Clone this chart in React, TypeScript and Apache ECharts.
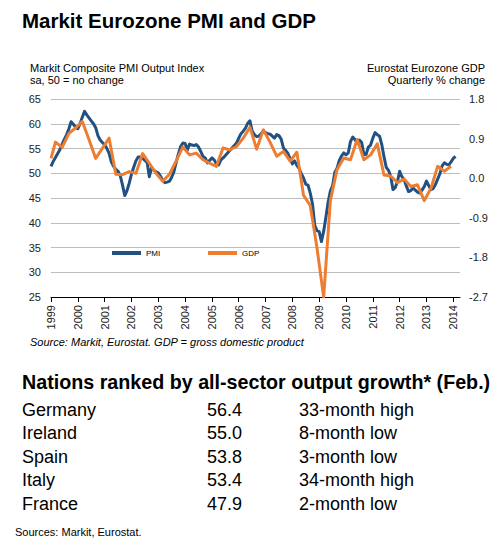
import React, { useEffect, useRef } from "react";
import * as echarts from "echarts";

// ---------- DATA ----------
const titleText = "Markit Eurozone PMI and GDP";
const leftAxisTitle = ["Markit Composite PMI Output Index", "sa, 50 = no change"];
const rightAxisTitle = ["Eurostat Eurozone GDP", "Quarterly % change"];
const sourceText = "Source: Markit, Eurostat. GDP = gross domestic product";
const tableTitle = "Nations ranked by all-sector output growth* (Feb.)";
const footnote = "Sources: Markit, Eurostat.";

const firstYear = 1999;
const lastYear = 2014;
const lastMonthOfAxis = 4; // axis runs to Apr 2014

// Monthly composite PMI, Jan 1999 - Feb 2014
const pmiValues = [
  51.4, 52.4, 53.2, 54.0, 54.8, 55.9, 56.9, 57.8, 59.0, 60.4, 59.9, 59.3, // 1999
  59.0, 60.0, 61.3, 62.5, 61.8, 61.2, 60.6, 60.0, 59.2, 57.6, 56.7, 56.2, // 2000
  55.8, 55.0, 54.0, 52.3, 51.4, 50.8, 50.4, 49.5, 47.6, 45.5, 46.5, 48.0, // 2001
  49.8, 51.2, 52.5, 53.3, 53.3, 53.0, 52.6, 52.2, 49.3, 51.2, 50.6, 50.3, // 2002
  50.1, 49.4, 48.6, 48.1, 48.2, 48.4, 49.2, 50.3, 52.2, 53.9, 55.4, 56.1, // 2003
  56.0, 54.7, 55.9, 55.7, 55.6, 55.8, 55.3, 54.4, 53.4, 53.1, 52.1, 52.6, // 2004
  53.1, 52.7, 51.9, 51.7, 52.7, 53.1, 53.6, 54.1, 54.6, 55.1, 55.6, 56.1, // 2005
  57.1, 58.0, 58.5, 59.1, 60.1, 60.6, 58.5, 57.8, 57.4, 57.5, 58.0, 58.4, // 2006
  58.2, 58.0, 57.9, 57.5, 57.1, 57.8, 57.6, 56.9, 55.1, 54.6, 54.0, 52.9, // 2007
  51.9, 52.5, 51.6, 51.0, 49.9, 49.0, 47.8, 47.6, 46.0, 43.8, 39.5, 38.4, // 2008
  38.2, 36.2, 38.3, 41.1, 44.2, 46.4, 47.5, 50.2, 51.0, 52.6, 53.5, 54.1, // 2009
  53.7, 54.1, 56.4, 57.3, 56.8, 56.1, 56.7, 56.2, 53.8, 53.8, 55.3, 55.7, // 2010
  57.1, 58.2, 57.8, 57.5, 55.8, 53.3, 51.2, 50.6, 49.4, 46.7, 47.1, 48.3, // 2011
  50.4, 49.3, 48.7, 47.4, 46.3, 46.5, 47.0, 46.6, 46.2, 46.0, 46.6, 47.3, // 2012
  48.4, 47.5, 46.7, 46.9, 47.7, 48.8, 49.9, 51.5, 52.1, 51.8, 51.7, 52.3, // 2013
  53.0, 53.4, // 2014
];

// Quarterly GDP % change: starting point (Jan 1999) then Q1 1999 - Q4 2013
const gdpStartValue = 0.45;
const gdpValues = [
  0.82, 0.7, 1.02, 1.14, // 1999
  1.29, 0.88, 0.45, 0.68, // 2000
  0.91, 0.09, 0.08, 0.15, // 2001
  0.11, 0.56, 0.34, 0.11, // 2002
  -0.07, 0.09, 0.39, 0.71, // 2003
  0.53, 0.57, 0.42, 0.34, // 2004
  0.27, 0.69, 0.64, 0.72, // 2005
  0.91, 1.16, 0.66, 1.1, // 2006
  0.82, 0.5, 0.61, 0.39, // 2007
  0.59, -0.39, -0.62, -1.58, // 2008
  -2.7, -0.51, 0.2, 0.46, // 2009
  0.42, 0.88, 0.42, 0.53, // 2010
  0.78, 0.07, 0.05, -0.1, // 2011
  -0.02, -0.19, -0.15, -0.51, // 2012
  -0.23, 0.27, 0.16, 0.27, // 2013
];

const nations = ["Germany", "Ireland", "Spain", "Italy", "France"];
const nationValues = ["56.4", "55.0", "53.8", "53.4", "47.9"];
const nationNotes = ["33-month high", "8-month low", "3-month low", "34-month high", "2-month low"];

// ---------- BUILD ----------
const pad = (n: number) => (n < 10 ? "0" + n : "" + n);
const months: string[] = [];
for (let y = firstYear; y <= lastYear; y++) {
  for (let m = 1; m <= 12; m++) {
    if (y === lastYear && m > lastMonthOfAxis) break;
    months.push(`${y}-${pad(m)}`);
  }
}
const pmiData = pmiValues.map((v, i) => [months[i], v]);
const gdpData: (string | number)[][] = [[months[0], gdpStartValue]];
gdpValues.forEach((v, i) => {
  const y = firstYear + Math.floor(i / 4);
  const m = (i % 4) * 3 + 3;
  gdpData.push([`${y}-${pad(m)}`, v]);
});

const FONT = '"Liberation Sans", Arial, sans-serif';
const isJan = (_i: number, v: string) => typeof v === "string" && v.endsWith("-01");

export default function App() {
  const ref = useRef<HTMLDivElement>(null);
  useEffect(() => {
    if (!ref.current) return;
    const chart = echarts.init(ref.current, undefined, { renderer: "svg" });

    const txt = (text: string, x: number, y: number, o: any = {}) => ({
      type: "text",
      x,
      y,
      silent: true,
      style: {
        text,
        fill: o.fill || "#000",
        fontFamily: FONT,
        fontSize: o.size || 11,
        fontWeight: o.weight || "normal",
        fontStyle: o.style || "normal",
        align: o.align || "left",
        textAlign: o.align || "left",
        verticalAlign: "middle",
        textVerticalAlign: "middle",
      },
    });

    const graphics: any[] = [
      txt(titleText, 22, 20.5, { size: 20.5, weight: "bold" }),
      txt(leftAxisTitle[0], 30, 67.5),
      txt(leftAxisTitle[1], 30, 80),
      txt(rightAxisTitle[0], 485, 67.5, { align: "right" }),
      txt(rightAxisTitle[1], 485, 80, { align: "right" }),
      txt(sourceText, 30, 341.5, { style: "italic" }),
      txt(tableTitle, 22, 382, { size: 19.7, weight: "bold" }),
      txt(footnote, 15, 532, { size: 11 }),
    ];
    nations.forEach((n, i) => {
      const y = 409.5 + i * 23.5;
      graphics.push(txt(n, 22, y, { size: 18 }));
      graphics.push(txt(nationValues[i], 207, y, { size: 18 }));
      graphics.push(txt(nationNotes[i], 299, y, { size: 18 }));
    });

    const axisLabelStyle = { color: "#222", fontFamily: FONT, fontSize: 11 };

    chart.setOption({
      animation: false,
      backgroundColor: "#fff",
      textStyle: { fontFamily: FONT },
      grid: { left: 51, top: 99, width: 409, height: 198, containLabel: false },
      legend: [
        {
          data: [{ name: "PMI", icon: "rect" }],
          left: 112,
          top: 249,
          padding: 0,
          itemWidth: 29,
          itemHeight: 4,
          textStyle: { fontSize: 8, color: "#000", fontFamily: FONT },
        },
        {
          data: [{ name: "GDP", icon: "rect" }],
          left: 208,
          top: 249,
          padding: 0,
          itemWidth: 29,
          itemHeight: 4,
          textStyle: { fontSize: 8, color: "#000", fontFamily: FONT },
        },
      ],
      xAxis: {
        type: "category",
        data: months,
        boundaryGap: false,
        axisLine: { show: true, onZero: false, lineStyle: { color: "#000", width: 1 } },
        axisTick: { show: true, interval: isJan, length: 5, lineStyle: { color: "#000" } },
        axisLabel: {
          ...axisLabelStyle,
          interval: isJan,
          rotate: 90,
          margin: 8,
          formatter: (v: string) => v.slice(0, 4),
        },
        splitLine: { show: false },
      },
      yAxis: [
        {
          type: "value",
          min: 25,
          max: 65,
          interval: 5,
          position: "left",
          axisLine: { show: false },
          axisTick: { show: false },
          axisLabel: { ...axisLabelStyle, margin: 10 },
          splitLine: { show: true, lineStyle: { color: "#bdbdbd", width: 1 } },
        },
        {
          type: "value",
          min: -2.7,
          max: 1.8,
          interval: 0.9,
          position: "right",
          axisLine: { show: false },
          axisTick: { show: false },
          axisLabel: {
            ...axisLabelStyle,
            margin: 9,
            formatter: (v: number) => (Math.abs(v) < 1e-9 ? "0.0" : v.toFixed(1)),
          },
          splitLine: { show: false },
        },
      ],
      series: [
        {
          name: "PMI",
          type: "line",
          yAxisIndex: 0,
          data: pmiData,
          showSymbol: false,
          symbol: "none",
          lineStyle: { color: "#215082", width: 3, join: "round" },
          itemStyle: { color: "#215082" },
        },
        {
          name: "GDP",
          type: "line",
          yAxisIndex: 1,
          data: gdpData,
          showSymbol: false,
          symbol: "none",
          lineStyle: { color: "#ED7D31", width: 3, join: "round" },
          itemStyle: { color: "#ED7D31" },
        },
      ],
      graphic: graphics,
    });
    return () => chart.dispose();
  }, []);

  return (
    <div
      ref={ref}
      style={{ position: "absolute", left: 0, top: 0, width: 501, height: 546, background: "#fff" }}
    />
  );
}
